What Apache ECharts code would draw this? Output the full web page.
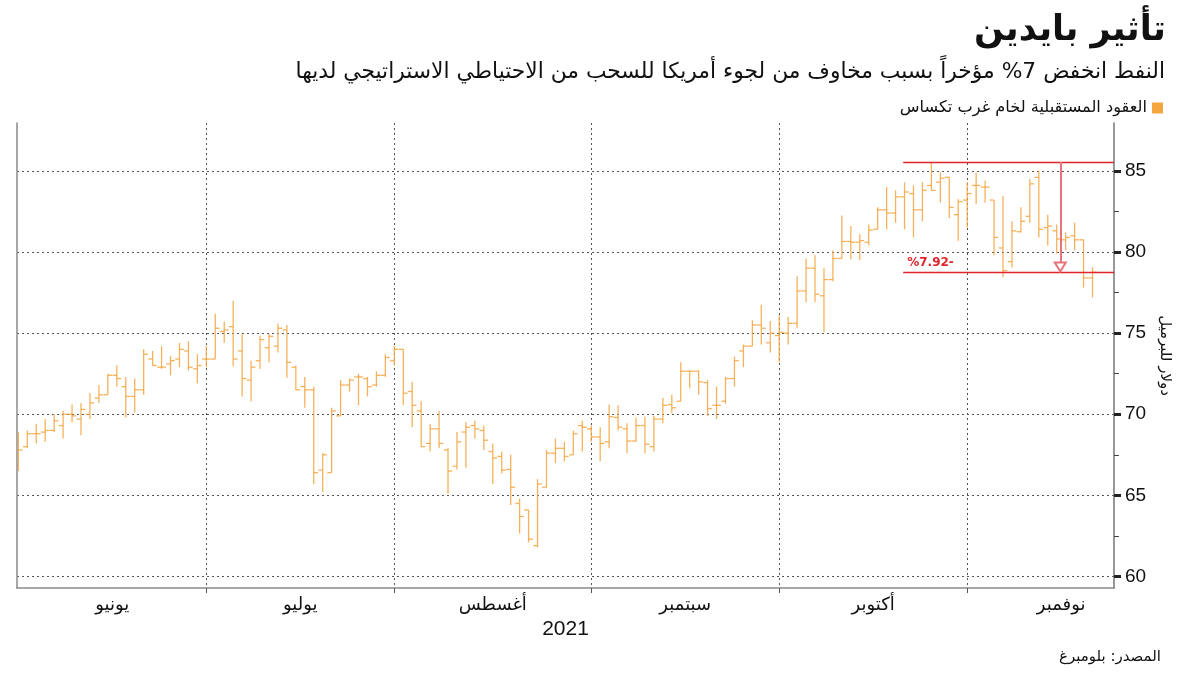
<!DOCTYPE html>
<html><head><meta charset="utf-8">
<script src="https://cdn.jsdelivr.net/npm/echarts@6/dist/echarts.min.js"></script>
<style>html,body{margin:0;padding:0;background:#fff}#c{width:1200px;height:675px}</style>
</head><body><div id="c"></div>
<script>
// ---- data (WTI crude futures, daily OHLC, trading days Jun -> Nov 2021) ----
const opens  = [67.5,68.0,68.8,68.9,69.0,69.3,70.0,69.7,70.0,71.0,71.2,72.4,71.7,71.1,71.5,73.4,72.9,73.1,73.4,73.9,72.8,
                73.4,73.4,75.1,75.4,73.9,72.1,73.3,74.1,74.2,75.2,72.9,71.7,71.5,66.55,66.4,69.9,71.8,72.3,72.2,71.8,72.4,
                73.3,74.0,71.4,70.2,68.2,69.1,67.8,66.8,68.9,69.3,69.0,67.7,67.4,66.6,64.5,64.1,61.9,65.5,67.6,67.9,67.5,69.3,
                69.1,68.6,68.3,69.8,69.1,68.35,69.3,68.0,69.7,70.6,70.8,72.65,72.65,71.95,70.55,70.8,72.2,73.9,74.2,75.5,74.4,
                74.85,75.0,75.6,77.6,79.0,77.3,78.3,79.6,80.65,80.6,80.6,81.4,82.6,82.4,83.4,83.6,82.6,84.1,84.3,84.6,82.3,
                83.2,84.1,84.0,83.2,80.25,79.4,81.25,82.2,84.6,81.5,81.3,80.75,81.0,80.75,78.4];
const highs  = [68.9,69.0,69.4,69.7,70.0,70.2,70.6,70.7,71.3,71.8,72.5,73.0,72.3,72.2,74.0,73.9,74.2,73.6,74.4,74.5,73.7,
                74.2,76.2,75.7,77.0,74.95,73.3,74.85,74.95,75.6,75.5,73.0,72.3,71.7,67.6,70.4,72.1,72.2,72.5,72.3,72.65,73.7,
                74.2,74.0,72.0,70.8,69.4,70.2,67.9,68.9,69.5,69.6,69.3,68.2,67.7,67.5,64.8,64.1,66.0,67.8,68.5,68.3,69.0,69.6,
                69.3,69.2,70.6,70.55,69.45,69.8,69.85,69.9,71.0,71.2,73.2,72.7,72.7,72.1,71.7,72.3,73.55,74.3,75.8,76.75,75.75,
                76.1,76.0,78.5,79.6,79.8,79.0,80.1,82.25,81.6,81.1,81.7,82.75,84.0,83.8,84.3,84.1,84.3,85.5,84.9,84.6,83.25,
                84.3,84.9,84.4,83.2,83.45,81.9,82.75,84.5,85.0,82.3,81.7,81.2,81.8,80.75,79.05];
const lows   = [66.5,67.9,68.2,68.3,68.9,68.5,69.5,68.7,69.7,70.7,71.2,71.7,69.8,70.1,71.2,73.0,72.8,72.4,72.9,72.7,71.9,
                72.9,73.4,74.4,72.95,71.1,70.8,72.8,73.2,73.8,72.25,71.5,70.4,65.7,65.2,66.4,69.9,71.4,70.55,71.1,71.7,72.3,
                73.0,70.55,69.2,68.0,67.7,67.9,65.1,66.6,66.7,68.5,67.8,65.7,66.35,64.4,62.65,62.1,61.8,65.5,67.0,67.1,67.5,67.7,
                68.3,67.1,67.9,69.0,67.6,68.3,67.6,67.7,69.45,70.05,70.8,71.6,71.2,69.9,69.7,70.65,71.7,72.9,74.2,74.3,73.8,
                73.2,74.3,75.3,76.9,76.9,75.05,78.2,79.6,79.55,79.5,80.4,81.4,81.4,81.8,81.4,80.9,81.9,83.8,83.05,82.1,80.7,
                81.5,82.95,83.05,79.8,78.45,79.05,81.2,81.8,80.9,80.4,79.9,80.1,80.1,77.8,77.2];
const closes = [67.8,68.8,68.8,69.0,69.6,70.0,69.9,70.3,70.7,71.2,72.4,72.2,71.1,71.5,73.7,73.0,72.9,73.3,74.0,72.9,73.0,
                73.4,75.3,75.2,73.4,72.2,72.9,74.6,74.8,75.3,73.2,71.5,71.5,66.4,67.5,70.2,71.8,72.1,72.3,71.7,72.4,73.5,
                74.0,71.3,70.55,68.0,69.1,68.2,66.5,68.3,69.2,69.1,68.4,67.3,66.55,65.5,63.7,62.3,65.7,67.6,67.9,67.4,68.8,69.2,
                68.6,68.2,69.85,69.2,68.35,69.3,68.15,69.7,70.55,70.4,72.65,72.65,72.0,70.35,70.55,72.2,73.3,74.2,75.5,75.3,75.0,
                75.05,75.6,77.6,79.0,77.4,78.3,79.6,80.65,80.6,80.7,81.35,82.6,82.4,83.4,83.7,82.6,83.8,83.8,84.55,82.75,83.1,
                83.6,84.1,84.0,80.9,78.85,81.3,81.9,84.2,81.4,81.6,80.8,80.9,80.75,78.4,78.75];
const monthNames = ['يونيو','يوليو','أغسطس','سبتمبر','أكتوبر','نوفمبر'];
const monthTradingDays = [21, 21, 22, 21, 21, 21];
const yTickValues = [60, 65, 70, 75, 80, 85];
const yMinorValues = [62.5, 67.5, 72.5, 77.5, 82.5];
const peakValue = 85.55;
const dropPct = -7.92;
const dropLabel = '%7.92-';
const peakStartIdx = 98.85;
const arrowIdx = 116.4;

// ---- derived ----
const monthStarts = [];
let acc = 0;
monthTradingDays.forEach(d => { monthStarts.push(acc); acc += d; });
const monthMids = monthStarts.map((s, i) => (s + s + monthTradingDays[i]) / 2);
const troughValue = +(peakValue * (1 + dropPct / 100)).toFixed(2);
const ohlc = opens.map((o, i) => [i, o, highs[i], lows[i], closes[i]]);

const X_MIN = -0.15, X_MAX = 122.4, Y_MIN = 59.29, Y_MAX = 87.95;
const AR = 'DejaVu Sans';
const BAR_COLOR = '#f4a53e';
const RED = '#e0242b';
const seriesName = 'العقود المستقبلية لخام غرب تكساس';

const chart = echarts.init(document.getElementById('c'), null, {renderer: 'canvas'});
chart.setOption({
  animation: false,
  backgroundColor: '#ffffff',
  title: [
    {text: 'تأثير بايدين', right: 29, top: 8, textStyle: {fontFamily: AR, fontSize: 35, fontWeight: 'bold', color: '#111'}},
    {text: 'النفط انخفض 7% مؤخراً بسبب مخاوف من لجوء أمريكا للسحب من الاحتياطي الاستراتيجي لديها', right: 30, top: 56,
     textStyle: {fontFamily: AR, fontSize: 21.8, fontWeight: 'normal', color: '#111'}},
    {text: 'المصدر: بلومبرغ', right: 34, top: 645, textStyle: {fontFamily: AR, fontSize: 15, fontWeight: 'normal', color: '#111'}}
  ],
  legend: {
    right: 32, top: 95, align: 'right', itemWidth: 11, itemHeight: 11, itemGap: 6,
    textStyle: {fontFamily: AR, fontSize: 16.2, color: '#111'},
    data: [{name: seriesName, icon: 'rect'}]
  },
  grid: {left: 17, right: 86, top: 123, bottom: 87},
  xAxis: {
    type: 'value', min: X_MIN, max: X_MAX,
    name: '2021', nameLocation: 'middle', nameGap: 30,
    nameTextStyle: {fontFamily: 'Liberation Sans', fontSize: 21, color: '#111'},
    axisLine: {show: true, onZero: false, lineStyle: {color: '#8a8a8a', width: 1.5}},
    axisTick: {show: true, customValues: monthStarts.slice(1), length: 5, lineStyle: {color: '#555'}},
    axisLabel: {show: true, customValues: monthMids, margin: 8,
      formatter: v => { const i = monthMids.indexOf(v); return i >= 0 ? monthNames[i] : ''; },
      fontFamily: AR, fontSize: 18, color: '#111'},
    splitLine: {show: true, lineStyle: {color: '#555', type: [2, 3], width: 1}}
  },
  yAxis: [
    {
      type: 'value', position: 'right', min: Y_MIN, max: Y_MAX,
      name: 'دولار للبرميل', nameLocation: 'middle', nameRotate: -90, nameGap: 42,
      nameTextStyle: {fontFamily: AR, fontSize: 15, color: '#111'},
      axisLine: {show: true, onZero: false, lineStyle: {color: '#777', width: 1.5}},
      axisTick: {show: true, customValues: yTickValues, length: 7, lineStyle: {color: '#222', width: 3}},
      axisLabel: {customValues: yTickValues, margin: 11, fontFamily: 'Liberation Sans', fontSize: 19, color: '#111'},
      splitLine: {show: true, lineStyle: {color: '#555', type: [2, 3], width: 1}}
    },
    {
      type: 'value', position: 'right', min: Y_MIN, max: Y_MAX,
      axisLine: {show: false, onZero: false},
      axisTick: {show: true, customValues: yMinorValues, length: 5, lineStyle: {color: '#444', width: 1}},
      axisLabel: {show: false, customValues: yMinorValues},
      splitLine: {show: false}
    },
    {
      type: 'value', position: 'left', min: Y_MIN, max: Y_MAX,
      axisLine: {show: true, onZero: false, lineStyle: {color: '#8a8a8a', width: 1.5}},
      axisTick: {show: false}, axisLabel: {show: false}, splitLine: {show: false}
    }
  ],
  series: [{
    name: seriesName,
    type: 'custom',
    xAxisIndex: 0, yAxisIndex: 0,
    itemStyle: {color: BAR_COLOR},
    encode: {x: 0, y: [1, 2, 3, 4]},
    data: ohlc,
    clip: true,
    renderItem: function (params, api) {
      const x = api.value(0);
      const o = api.coord([x, api.value(1)]);
      const h = api.coord([x, api.value(2)]);
      const l = api.coord([x, api.value(3)]);
      const c = api.coord([x, api.value(4)]);
      const w = api.size([1, 0])[0] * 0.48;
      const st = {stroke: BAR_COLOR, lineWidth: 1.3, opacity: 0.85};
      return {type: 'group', children: [
        {type: 'line', shape: {x1: h[0], y1: h[1], x2: l[0], y2: l[1]}, style: st},
        {type: 'line', shape: {x1: o[0] - w, y1: o[1], x2: o[0], y2: o[1]}, style: st},
        {type: 'line', shape: {x1: c[0], y1: c[1], x2: c[0] + w, y2: c[1]}, style: st}
      ]};
    },
    markLine: {
      silent: true, animation: false, symbol: ['none', 'none'],
      data: [
        [{coord: [peakStartIdx, peakValue], lineStyle: {color: RED, width: 1.3, type: 'solid'}, label: {show: false}},
         {coord: [X_MAX, peakValue]}],
        [{coord: [peakStartIdx, troughValue], lineStyle: {color: RED, width: 1.3, type: 'solid'},
          label: {show: true, position: 'insideStartTop', formatter: dropLabel, color: RED, fontSize: 12,
                  fontWeight: 'bold', fontFamily: 'DejaVu Sans', distance: [4, 3]}},
         {coord: [X_MAX, troughValue]}],
        [{coord: [arrowIdx, peakValue], symbol: 'none', lineStyle: {color: '#e8737a', width: 2, type: 'solid'}, label: {show: false}},
         {coord: [arrowIdx, troughValue + 0.3], symbol: 'emptyTriangle', symbolSize: [11, 9]}]
      ]
    }
  }]
});
</script></body></html>
